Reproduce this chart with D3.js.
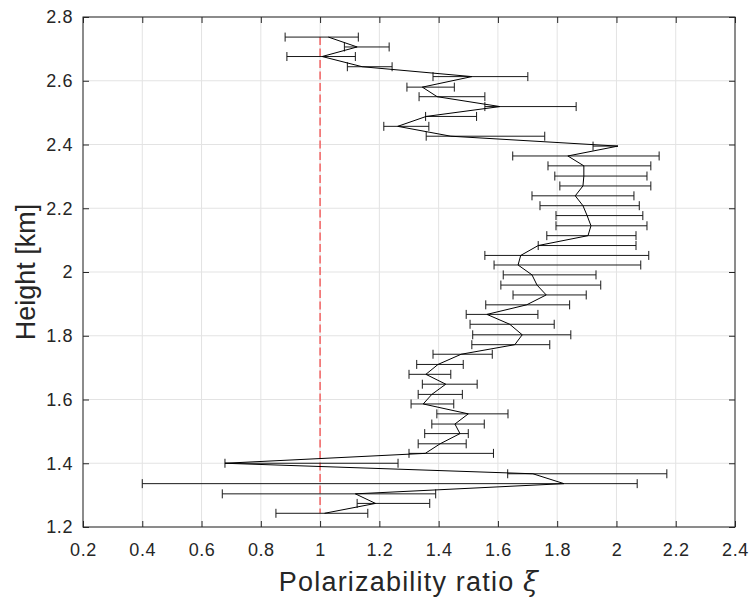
<!DOCTYPE html>
<html lang="en">
<head>
  <meta charset="UTF-8">
  <title>Polarizability ratio profile</title>
  <script src="https://d3js.org/d3.v7.min.js"></script>
  <style>
    body { margin: 0; background: #fff; }
    text { font-family: "Liberation Sans", Arial, Helvetica, sans-serif; fill: #262626; }
    .tick text { font-size: 18px; letter-spacing: 0.6px; fill: #262626; }
    .grid line { stroke: #e3e3e3; stroke-width: 1; }
  </style>
</head>
<body>
  <svg id="chart"></svg>
  <script>
    // Heights of each sample (km), top to bottom
    const heights = [2.737, 2.706, 2.676, 2.644, 2.613, 2.580, 2.550, 2.519, 2.488, 2.457,
      2.426, 2.395, 2.364, 2.333, 2.301, 2.270, 2.239, 2.208, 2.177, 2.145,
      2.114, 2.083, 2.052, 2.022, 1.991, 1.959, 1.928, 1.897, 1.867, 1.836,
      1.803, 1.772, 1.742, 1.710, 1.679, 1.648, 1.616, 1.586, 1.555, 1.523,
      1.493, 1.461, 1.431, 1.400, 1.367, 1.336, 1.304, 1.274, 1.243];

    // Polarizability ratio at each height
    const xi = [1.028, 1.125, 1.007, 1.142, 1.512, 1.345, 1.395, 1.607, 1.358, 1.262,
      1.441, 2.005, 1.836, 1.890, 1.890, 1.887, 1.861, 1.887, 1.901, 1.914,
      1.904, 1.736, 1.677, 1.668, 1.715, 1.732, 1.763, 1.697, 1.563, 1.640,
      1.682, 1.657, 1.476, 1.398, 1.357, 1.424, 1.377, 1.348, 1.500, 1.455,
      1.472, 1.405, 1.355, 0.679, 1.718, 1.823, 1.119, 1.187, 1.015];

    // Lower end of each error bar
    const xiLow = [0.882, 1.082, 0.888, 1.092, 1.381, 1.293, 1.334, 1.556, 1.356, 1.215,
      1.358, 1.921, 1.650, 1.769, 1.792, 1.809, 1.715, 1.742, 1.796, 1.796,
      1.765, 1.736, 1.556, 1.587, 1.618, 1.610, 1.651, 1.559, 1.493, 1.506,
      1.515, 1.512, 1.381, 1.326, 1.300, 1.345, 1.331, 1.307, 1.394, 1.377,
      1.353, 1.331, 1.300, 0.679, 1.633, 0.400, 0.670, 1.125, 0.851];

    // Upper end of each error bar (null: not drawn)
    const xiHigh = [1.129, 1.233, 1.119, 1.243, 1.701, 1.453, 1.556, 1.864, 1.528, 1.367,
      1.758, null, 2.144, 2.116, 2.103, 2.116, 2.059, 2.077, 2.089, 2.103,
      2.066, 2.066, 2.109, 2.082, 1.931, 1.947, 1.898, 1.842, 1.735, 1.790,
      1.846, 1.775, 1.581, 1.483, 1.441, 1.530, 1.480, 1.451, 1.634, 1.554,
      1.500, 1.493, 1.585, 1.263, 2.170, 2.070, 1.390, 1.370, 1.161];

    const xTicks = [0.2, 0.4, 0.6, 0.8, 1, 1.2, 1.4, 1.6, 1.8, 2, 2.2, 2.4];
    const yTicks = [1.2, 1.4, 1.6, 1.8, 2, 2.2, 2.4, 2.6, 2.8];
    const refRatio = 1;

    const width = 749;
    const height = 599;
    const margin = { top: 17, right: 14, bottom: 72, left: 83 };
    const innerW = width - margin.left - margin.right;
    const innerH = height - margin.top - margin.bottom;

    const svg = d3.select("#chart")
      .attr("width", width)
      .attr("height", height);

    const g = svg.append("g")
      .attr("transform", "translate(" + margin.left + "," + margin.top + ")");

    const x = d3.scaleLinear().domain([0.2, 2.4]).range([0, innerW]);
    const y = d3.scaleLinear().domain([1.2, 2.8]).range([innerH, 0]);
    const fmt = d => String(+d.toFixed(1));

    // grid
    const grid = g.append("g").attr("class", "grid");
    grid.selectAll(".gx").data(xTicks).enter().append("line")
      .attr("x1", d => x(d)).attr("x2", d => x(d))
      .attr("y1", 0).attr("y2", innerH);
    grid.selectAll(".gy").data(yTicks).enter().append("line")
      .attr("x1", 0).attr("x2", innerW)
      .attr("y1", d => y(d)).attr("y2", d => y(d));

    // reference line at xi = 1
    g.append("line")
      .attr("x1", x(refRatio)).attr("x2", x(refRatio))
      .attr("y1", y(d3.max(heights))).attr("y2", y(d3.min(heights)))
      .attr("stroke", "#f26262")
      .attr("stroke-width", 1.5)
      .attr("stroke-dasharray", "8,3.5");

    // error bars
    const pts = heights.map((h, i) => ({ h: h, v: xi[i], lo: xiLow[i], hi: xiHigh[i] }));
    const capH = 4.5;
    const bars = g.append("g")
      .attr("stroke", "#1a1a1a")
      .attr("stroke-width", 1);

    pts.forEach(p => {
      const yy = y(p.h);
      const right = p.hi === null ? p.v : p.hi;
      bars.append("line")
        .attr("x1", x(p.lo)).attr("x2", x(right))
        .attr("y1", yy).attr("y2", yy);
      bars.append("line")
        .attr("x1", x(p.lo)).attr("x2", x(p.lo))
        .attr("y1", yy - capH).attr("y2", yy + capH);
      if (p.hi !== null) {
        bars.append("line")
          .attr("x1", x(p.hi)).attr("x2", x(p.hi))
          .attr("y1", yy - capH).attr("y2", yy + capH);
      }
    });

    // profile line
    const line = d3.line()
      .x(d => x(d.v))
      .y(d => y(d.h));

    g.append("path")
      .datum(pts)
      .attr("fill", "none")
      .attr("stroke", "#000")
      .attr("stroke-width", 1)
      .attr("d", line);

    // axes, ticks pointing inward
    const axisStyle = sel => {
      sel.select(".domain").remove();
      sel.selectAll(".tick line").attr("stroke", "#262626");
    };

    g.append("g")
      .attr("transform", "translate(0," + innerH + ")")
      .call(d3.axisBottom(x).tickValues(xTicks).tickFormat(fmt).tickSize(-6).tickPadding(16))
      .call(axisStyle);

    g.append("g")
      .call(d3.axisLeft(y).tickValues(yTicks).tickFormat(fmt).tickSize(-6).tickPadding(10))
      .call(axisStyle);

    g.append("g")
      .call(d3.axisTop(x).tickValues(xTicks).tickFormat("").tickSize(-6))
      .call(axisStyle);

    g.append("g")
      .attr("transform", "translate(" + innerW + ",0)")
      .call(d3.axisRight(y).tickValues(yTicks).tickFormat("").tickSize(-6))
      .call(axisStyle);

    // box
    g.append("rect")
      .attr("width", innerW)
      .attr("height", innerH)
      .attr("fill", "none")
      .attr("stroke", "#262626")
      .attr("stroke-width", 1);

    // axis labels
    const xLabel = svg.append("text")
      .attr("x", margin.left + innerW / 2)
      .attr("y", 591)
      .attr("text-anchor", "middle")
      .attr("font-size", "27px")
      .attr("letter-spacing", "1.2px");
    xLabel.append("tspan").text("Polarizability ratio ");
    xLabel.append("tspan")
      .attr("font-family", "'DejaVu Serif', 'Liberation Serif', serif")
      .attr("font-style", "italic")
      .text("ξ");

    svg.append("text")
      .attr("transform", "translate(35," + (margin.top + innerH / 2) + ") rotate(-90)")
      .attr("text-anchor", "middle")
      .attr("font-size", "27px")
      .text("Height [km]");
  </script>
</body>
</html>
